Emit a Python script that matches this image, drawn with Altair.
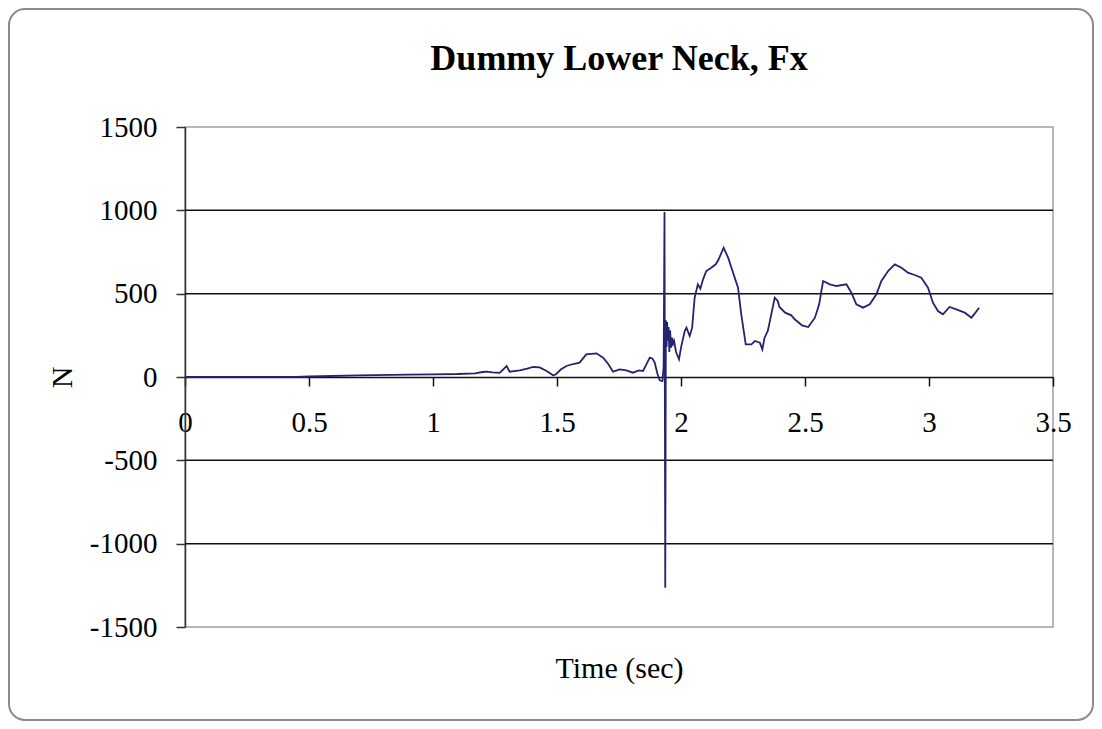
import altair as alt
import pandas as pd

# ---- data ----
time_s = [0.0, 0.45, 0.5, 0.7, 0.9, 1.0, 1.1, 1.17, 1.2, 1.216, 1.24, 1.269, 1.297, 1.309, 1.35, 1.38,
          1.404, 1.43, 1.46, 1.484, 1.495, 1.515, 1.538, 1.565, 1.591, 1.618, 1.659, 1.686, 1.706,
          1.726, 1.753, 1.78, 1.806, 1.83, 1.847, 1.862, 1.874, 1.885, 1.894, 1.905, 1.914, 1.925,
          1.930, 1.9335, 1.9365, 1.939, 1.942, 1.944, 1.947, 1.950, 1.953, 1.956, 1.960, 1.964,
          1.968, 1.972, 1.980, 1.992, 2.000, 2.015, 2.022, 2.035, 2.045, 2.055, 2.068, 2.078,
          2.089, 2.102, 2.122, 2.14, 2.15, 2.172, 2.19, 2.21, 2.23, 2.243, 2.261, 2.284, 2.298,
          2.318, 2.328, 2.337, 2.35, 2.364, 2.378, 2.39, 2.397, 2.42, 2.445, 2.458, 2.472, 2.488,
          2.513, 2.54, 2.557, 2.573, 2.6, 2.627, 2.667, 2.687, 2.707, 2.734, 2.761, 2.788, 2.808,
          2.835, 2.862, 2.889, 2.915, 2.942, 2.969, 2.996, 3.016, 3.036, 3.056, 3.083, 3.11, 3.144,
          3.171, 3.184, 3.202]
force_n = [0, 0, 3, 10, 14, 16, 18, 22, 30, 32, 28, 25, 66, 32, 40, 50,
           60, 58, 35, 10, 15, 45, 66, 78, 86, 136, 142, 116, 80,
           32, 46, 40, 26, 40, 36, 80, 116, 110, 86, 20, -20, -25,
           60, 990, -1265, 340, 180, 330, 220, 300, 150, 280, 176, 236,
           200, 216, 150, 106, 176, 276, 296, 246, 296, 476, 556, 530,
           586, 636, 656, 676, 700, 776, 716, 626, 536, 376, 196, 196, 216,
           206, 166, 236, 276, 376, 476, 456, 420, 386, 370, 346, 330, 310,
           300, 356, 436, 576, 556, 546, 556, 506, 436, 416, 436, 496, 576,
           636, 676, 656, 626, 612, 596, 536, 446, 396, 376, 420, 406, 386,
           356, 380, 416]

x_ticks = [0, 0.5, 1, 1.5, 2, 2.5, 3, 3.5]
y_ticks = [-1500, -1000, -500, 0, 500, 1000, 1500]
grid_values = [1000, 500, -500, -1000]

title_text = "Dummy Lower Neck, Fx"
x_title = "Time (sec)"
y_title = "N"

FONT = "Liberation Serif"
W, H = 868, 500

df = pd.DataFrame({"t": time_s, "f": force_n, "i": list(range(len(time_s)))})
grid_df = pd.DataFrame({"g": grid_values})
frame_df = pd.DataFrame({"k": [0]})
title_df = pd.DataFrame({"label": [title_text]})

xscale = alt.Scale(domain=[0, 3.5], nice=False, zero=False)
yscale = alt.Scale(domain=[-1500, 1500], nice=False, zero=False)

y_axis = alt.Axis(values=y_ticks, labelExpr="datum.value + ''",
                  tickSize=9, tickColor="#333333", domainColor="#333333",
                  domainWidth=1.5, tickWidth=1.5,
                  labelFont=FONT, labelFontSize=29, labelColor="black",
                  labelPadding=19, labelFlush=False, labelOverlap=False,
                  grid=False, title=y_title, titleFont=FONT, titleFontSize=30,
                  titleFontWeight="normal", titleColor="black",
                  titleX=-123, titleY=H / 2, titleAngle=270,
                  titleAlign="center", titleBaseline="middle")

x_axis = alt.Axis(values=x_ticks, labelExpr="datum.value + ''", offset=-250,
                  tickSize=9, tickColor="#111111", domainColor="#111111",
                  domainWidth=1.5, tickWidth=1.5,
                  labelFont=FONT, labelFontSize=29, labelColor="black",
                  labelPadding=22, labelFlush=False, labelOverlap=False,
                  grid=False, title=x_title, titleFont=FONT, titleFontSize=30,
                  titleFontWeight="normal", titleColor="black",
                  titleX=W / 2, titleY=300, titleAlign="center",
                  titleBaseline="alphabetic")

frame = alt.Chart(frame_df).mark_rect(
    fill=None, stroke="#8c8c8c", strokeWidth=2, cornerRadius=16
).encode(
    x=alt.value(-176), x2=alt.value(W + 40),
    y=alt.value(-118), y2=alt.value(H + 93),
)

title = alt.Chart(title_df).mark_text(
    font=FONT, fontSize=36, fontWeight="bold", color="black",
    align="center", baseline="alphabetic"
).encode(
    text="label:N", x=alt.value(W / 2), y=alt.value(-57)
)

grid = alt.Chart(grid_df).mark_rule(color="#111111", strokeWidth=1.5).encode(
    y=alt.Y("g:Q", scale=yscale, axis=y_axis)
)

line = alt.Chart(df).mark_line(color="#24246e", strokeWidth=1.8).encode(
    x=alt.X("t:Q", scale=xscale, axis=x_axis),
    y=alt.Y("f:Q", scale=yscale, axis=y_axis),
    order=alt.Order("i:Q"),
)

chart = alt.layer(frame, title, grid, line).properties(
    width=W, height=H,
    autosize=alt.AutoSizeParams(type="none"),
    padding={"left": 177, "top": 119, "right": 41, "bottom": 94},
    background="white",
).configure_view(stroke="#a0a0a0", strokeWidth=1.5)

chart.save("out.html", embed_options={"renderer": "svg", "actions": False})
